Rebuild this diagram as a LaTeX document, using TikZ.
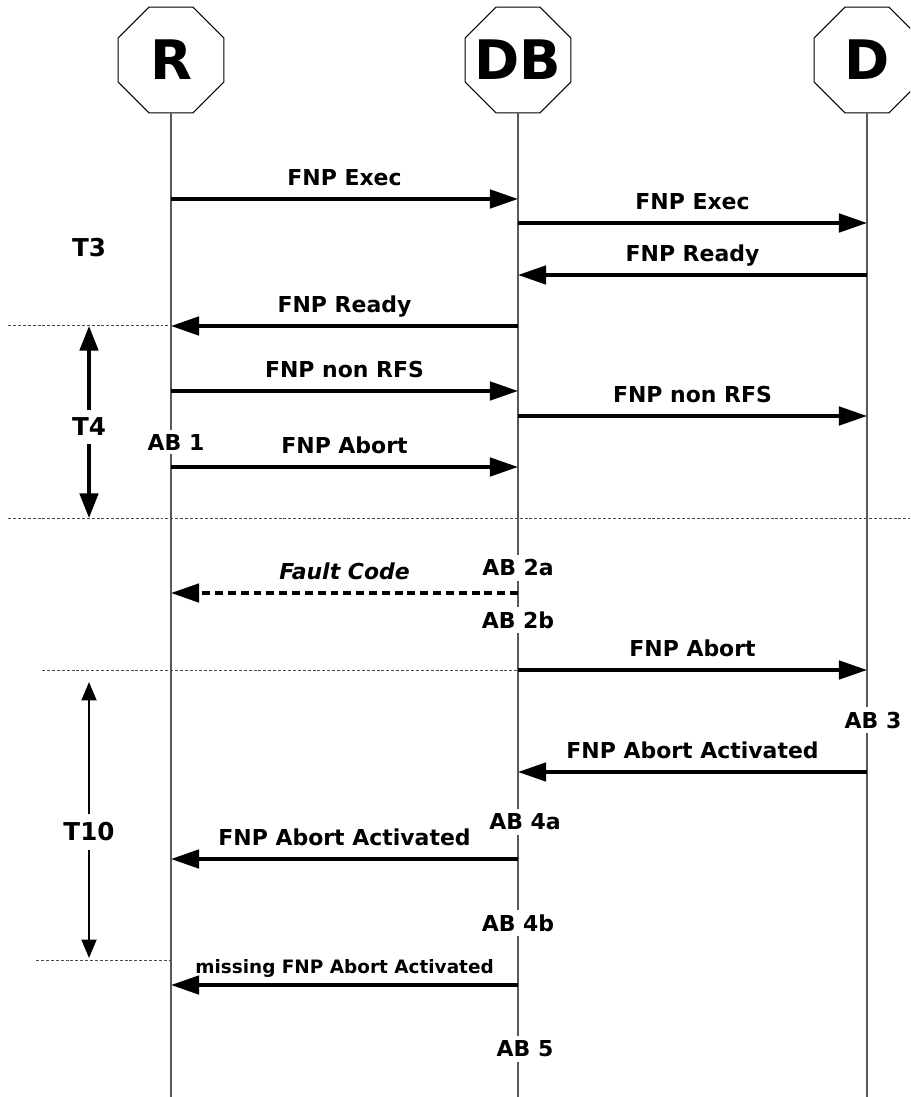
\documentclass[tikz,border=0pt]{standalone}
\usepackage{fontspec}
\setmainfont{DejaVu Sans}
\usetikzlibrary{shapes.geometric,arrows.meta}

\begin{document}
\begin{tikzpicture}[x=0.02cm, y=-0.02cm,
  actor/.style={draw, fill=white, regular polygon, regular polygon sides=8, minimum size=2.29cm, inner sep=-12pt, line width=0.6pt, font=\fontsize{31}{36}\selectfont\bfseries},
  lifeline/.style={line width=0.6pt},
  msg/.style={line width=2pt, -{Triangle[length=16pt,width=10.5pt]}},
  lbl/.style={midway, anchor=base, yshift=7.6pt, font=\fontsize{12.5}{15}\selectfont\bfseries},
  ab/.style={fill=white, inner sep=2.5pt, font=\fontsize{12.5}{15}\selectfont\bfseries},
  sepline/.style={gray!60!black, line width=0.5pt, dash pattern=on 1.7pt off 1.1pt},
  tlbl/.style={inner sep=4.5pt, font=\fontsize{14}{17}\selectfont\bfseries},
  tspan/.style={line width=2pt, -{Triangle[length=14pt,width=10.5pt]}},
  tspanthin/.style={line width=1.2pt, -{Triangle[length=10.5pt,width=8.5pt]}}]
\useasboundingbox (0,0) rectangle (910,1097);
\clip (0,0) rectangle (910,1097);

\node[actor] (R) at (171,60) {R};
\node[actor] (DB) at (518,60) {DB};
\node[actor] (D) at (867,60) {D};
\coordinate (bot) at (0,1097);
\draw[lifeline] (R) -- (R |- bot);
\draw[lifeline] (DB) -- (DB |- bot);
\draw[lifeline] (D) -- (D |- bot);

\draw[sepline] (8,325) -- (R |- 0,325);
\draw[sepline] (8,518) -- (910,518);
\draw[sepline] (42,670) -- (DB |- 0,670);
\draw[sepline] (36,960) -- (R |- 0,960);

\draw[msg] (R |- 0,199) -- (DB |- 0,199) node[lbl] {FNP Exec};
\draw[msg] (DB |- 0,223) -- (D |- 0,223) node[lbl] {FNP Exec};
\draw[msg] (D |- 0,275) -- (DB |- 0,275) node[lbl] {FNP Ready};
\draw[msg] (DB |- 0,326) -- (R |- 0,326) node[lbl] {FNP Ready};
\draw[msg] (R |- 0,391) -- (DB |- 0,391) node[lbl] {FNP non RFS};
\draw[msg] (DB |- 0,416) -- (D |- 0,416) node[lbl] {FNP non RFS};
\draw[msg] (R |- 0,467) -- (DB |- 0,467) node[lbl] {FNP Abort};
\draw[msg, dash pattern=on 4.5pt off 2.8pt] (DB |- 0,593) -- (R |- 0,593) node[lbl, font=\fontsize{12.5}{15}\selectfont\bfseries\itshape] {Fault Code};
\draw[msg] (DB |- 0,670) -- (D |- 0,670) node[lbl] {FNP Abort};
\draw[msg] (D |- 0,772) -- (DB |- 0,772) node[lbl] {FNP Abort Activated};
\draw[msg] (DB |- 0,859) -- (R |- 0,859) node[lbl] {FNP Abort Activated};
\draw[msg] (DB |- 0,985) -- (R |- 0,985) node[lbl, yshift=-1.2pt, font=\fontsize{10.5}{13}\selectfont\bfseries] {missing FNP Abort Activated};

\node[ab] (ab1) at (176,442) {AB 1};
\node[ab] (ab2a) at (518,568) {AB 2a};
\node[ab] (ab2b) at (518,620) {AB 2b};
\node[ab] (ab3) at (873,720) {AB 3};
\node[ab] (ab4a) at (525,822) {AB 4a};
\node[ab] (ab4b) at (518,923) {AB 4b};
\node[ab] (ab5) at (525,1049) {AB 5};

\node[tlbl] (t3) at (89,248) {T3};
\node[tlbl] (t4) at (89,427) {T4};
\draw[tspan] (t4) -- (t4 |- 0,326);
\draw[tspan] (t4) -- (t4 |- 0,518);
\node[tlbl] (t10) at (89,832) {T10};
\draw[tspanthin] (t10) -- (t10 |- 0,682);
\draw[tspanthin] (t10) -- (t10 |- 0,958);
\end{tikzpicture}
\end{document}
